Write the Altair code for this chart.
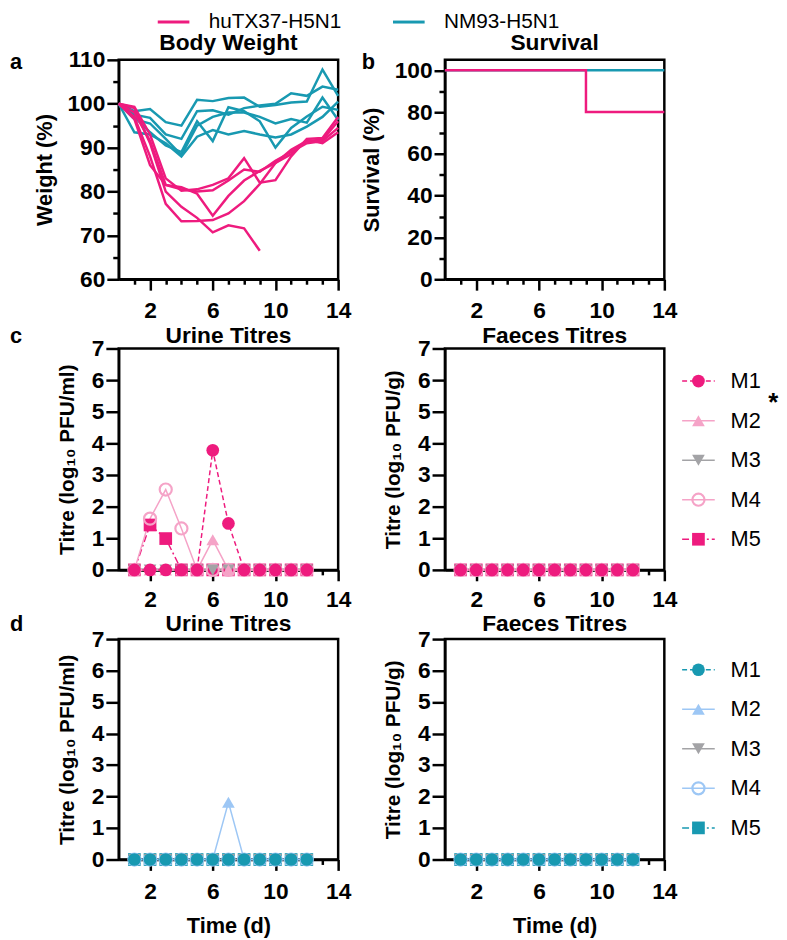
import altair as alt
import pandas as pd

FONT = "Liberation Sans"
PINK = "#EE1B7E"
LPINK = "#F5A3C7"
GREY = "#A3A3A6"
TEAL = "#1899B1"
LBLUE = "#9DC7F5"

# ---------------- data ----------------
days = list(range(15))
viruses = ["huTX37-H5N1", "NM93-H5N1"]

# body weight (%) huTX37-H5N1, five mice (one died after day 9)
hu_m1 = [100, 99.0, 91.0, 80.0, 76.5, 74.0, 70.7, 72.3, 71.6, 66.5]
hu_m2 = [100, 97.0, 88.0, 77.2, 73.2, 73.3, 73.5, 75.0, 77.8, 81.7, 86.5, 89.5, 91.5, 91.8, 96.0]
hu_m3 = [100, 96.5, 86.0, 81.5, 81.0, 79.5, 74.5, 79.0, 82.5, 84.7, 86.5, 88.5, 91.8, 91.0, 93.5]
hu_m4 = [100, 99.3, 93.0, 83.0, 80.2, 80.5, 81.5, 83.0, 87.6, 82.0, 82.6, 88.0, 92.0, 92.2, 97.0]
hu_m5 = [100, 98.0, 91.5, 81.5, 80.5, 80.0, 80.3, 82.5, 85.0, 84.5, 87.0, 89.0, 91.0, 91.5, 94.5]
# body weight (%) NM93-H5N1
nm_m1 = [100, 98.3, 98.8, 95.8, 95.0, 100.9, 100.6, 101.3, 101.4, 99.3, 99.7, 100.3, 100.5, 107.8, 101.8]
nm_m2 = [100, 97.5, 96.8, 93.0, 92.0, 98.3, 98.5, 97.5, 99.0, 99.6, 100.0, 102.4, 101.8, 103.9, 103.2]
nm_m3 = [100, 96.5, 95.5, 92.0, 88.3, 95.0, 97.0, 98.0, 98.0, 97.0, 95.5, 96.5, 95.7, 101.4, 96.3]
nm_m4 = [100, 93.5, 93.0, 91.0, 88.0, 92.5, 94.0, 93.0, 93.8, 93.0, 92.3, 93.0, 94.8, 97.0, 100.5]
nm_m5 = [100, 97.0, 93.5, 90.5, 89.0, 96.0, 91.5, 99.2, 98.3, 96.0, 90.0, 94.5, 97.1, 99.3, 98.6]

# survival (%)
surv_days = [0, 9, 14]
surv_hu = [100, 80, 80]
surv_nm = [100, 100, 100]

# titres (log10)
mice = ["M1", "M2", "M3", "M4", "M5"]
tdays = list(range(1, 13))
c_urine_m1 = [0, 0, 0, 0, 0, 3.78, 1.47, 0, 0, 0, 0, 0]
c_urine_m2 = [0, 0, 0, 0, 0, 0.95, 0, 0, 0, 0, 0, 0]
c_urine_m3 = [0] * 12
c_urine_m4 = [0, 1.62, 2.54, 1.31, 0, 0, 0, 0, 0, 0, 0, 0]
c_urine_m5 = [0, 1.42, 0.99, 0, 0, 0, 0, 0, 0, 0, 0, 0]
d_urine_m1 = [0] * 12
d_urine_m2 = [0, 0, 0, 0, 0, 0, 1.82, 0, 0, 0, 0, 0]
d_urine_m3 = [0] * 12
d_urine_m4 = [0] * 12
d_urine_m5 = [0] * 12
faeces_all = [0] * 12

# ---------------- helpers ----------------
XSC = alt.Scale(domain=[0, 14], nice=False, zero=False)
MAJOR_X = "(datum.value - 2) % 4 == 0"


def x_axis(title=None, pad=9.5):
    return alt.Axis(values=list(range(1, 15)), labelExpr=f"{MAJOR_X} ? datum.label : ''",
                    tickSize={"condition": {"test": MAJOR_X, "value": 11}, "value": 5},
                    labelFlush=False, labelOverlap=False, labelPadding=pad, title=title,
                    titlePadding=12)


def text_at(t, x, y, size=22, weight="bold", align="left"):
    return alt.Chart(alt.Data(values=[{"t": t}])).mark_text(
        font=FONT, fontSize=size, fontWeight=weight, align=align, baseline="alphabetic",
        color="black").encode(x=alt.value(x), y=alt.value(y), text="t:N")


color_enc_legend = alt.Legend(
    title=None, orient="none", legendX=38, legendY=-56, direction="horizontal",
    symbolType="stroke", symbolSize=1024, symbolStrokeWidth=3, labelFontSize=21,
    labelFont=FONT, labelFontWeight="normal", labelColor="black", labelOffset=18,
    columnPadding=45)
COLSC = alt.Scale(domain=viruses, range=[PINK, TEAL])

# ---------------- panel a ----------------
rows = []
for name, vals in [("nm1", nm_m1), ("nm2", nm_m2), ("nm3", nm_m3), ("nm4", nm_m4), ("nm5", nm_m5)]:
    for d, v in zip(days, vals):
        rows.append({"day": d, "weight": v, "mouse": name, "virus": viruses[1]})
wt_nm = pd.DataFrame(rows)
rows = []
for name, vals in [("hu1", hu_m1), ("hu2", hu_m2), ("hu3", hu_m3), ("hu4", hu_m4), ("hu5", hu_m5)]:
    for d, v in zip(days, vals):
        rows.append({"day": d, "weight": v, "mouse": name, "virus": viruses[0]})
wt_hu = pd.DataFrame(rows)

ya = alt.Y("weight:Q", scale=alt.Scale(domain=[60, 110], nice=False, zero=False),
           axis=alt.Axis(values=list(range(60, 111, 5)),
                         labelExpr="datum.value % 10 == 0 ? datum.label : ''",
                         tickSize={"condition": {"test": "datum.value % 10 == 0", "value": 12},
                                   "value": 6},
                         title="Weight (%)", labelOverlap=False))
xa = alt.X("day:Q", scale=XSC, axis=x_axis())
col_a = alt.Color("virus:N", scale=COLSC, legend=color_enc_legend)

la1 = alt.Chart(wt_nm).mark_line(strokeWidth=2.5).encode(x=xa, y=ya, detail="mouse:N", color=col_a)
la2 = alt.Chart(wt_hu).mark_line(strokeWidth=2.5).encode(x=xa, y=ya, detail="mouse:N", color=col_a)
panel_a = alt.layer(la1, la2, text_at("a", -110, 9),
                    text_at("Body Weight", 111, -10, size=23, align="center")).properties(
    width=222, height=222)

# ---------------- panel b ----------------
sv = pd.DataFrame(
    [{"day": d, "surv": v, "virus": viruses[1]} for d, v in zip(surv_days, surv_nm)] +
    [{"day": d, "surv": v, "virus": viruses[0]} for d, v in zip(surv_days, surv_hu)])
yb = alt.Y("surv:Q", scale=alt.Scale(domain=[0, 105], nice=False),
           axis=alt.Axis(values=list(range(0, 101, 10)),
                         labelExpr="datum.value % 20 == 0 ? datum.label : ''",
                         tickSize={"condition": {"test": "datum.value % 20 == 0", "value": 11},
                                   "value": 6},
                         title="Survival (%)", labelOverlap=False))
col_b = alt.Color("virus:N", scale=COLSC, legend=None)
lb1 = alt.Chart(sv).transform_filter(f"datum.virus == '{viruses[1]}'").mark_line(
    strokeWidth=2.5, interpolate="step-after").encode(x=xa, y=yb, color=col_b)
lb2 = alt.Chart(sv).transform_filter(f"datum.virus == '{viruses[0]}'").mark_line(
    strokeWidth=2.5, interpolate="step-after").encode(x=xa, y=yb, color=col_b)
panel_b = alt.layer(lb1, lb2, text_at("b", -84, 9),
                    text_at("Survival", 111, -10, size=23, align="center")).properties(
    width=222, height=222)

# ---------------- titre panels ----------------
SHAPES = ["circle", "triangle-up", "triangle-down", "circle", "square"]
FILLED = [True, True, True, False, True]
DASHES = [[5, 3], None, None, None, [7, 3, 2, 3]]


def point_kw(i, color):
    pkw = dict(shape=SHAPES[i], filled=FILLED[i], color=color, opacity=1, size=165)
    if not FILLED[i]:
        pkw["strokeWidth"] = 2.2
        pkw["size"] = 150
    return pkw


def titre_panel(series, colors, ytitle, title, xtitle, height, title_y, let=None, pad=10.5):
    xs = alt.X("day:Q", scale=XSC, axis=x_axis(xtitle, pad=pad))
    ys = alt.Y("titre:Q", scale=alt.Scale(domain=[0, 7], nice=False),
               axis=alt.Axis(values=list(range(0, 8)), tickSize=13, title=ytitle,
                             titleFontSize=21, titlePadding=14, labelOverlap=False))
    lines, pts = [], []
    for i in [4, 3, 2, 1, 0]:
        df = pd.DataFrame({"day": tdays, "titre": series[i]})
        kw = dict(color=colors[i], strokeWidth=1.5)
        if DASHES[i]:
            kw["strokeDash"] = DASHES[i]
        lines.append(alt.Chart(df).mark_line(**kw).encode(x=xs, y=ys))
        pts.append(alt.Chart(df).mark_point(**point_kw(i, colors[i])).encode(x=xs, y=ys))
    layers = lines + pts + [text_at(title, 111, title_y, size=23, align="center")]
    if let:
        layers.append(text_at(*let))
    return alt.layer(*layers).properties(width=222, height=height)


def legend_cell(colors, yrange, height, star=False):
    # the cell sits right of the faeces panel; marks are placed to its left
    ysc = alt.Y("mouse:N", scale=alt.Scale(type="point", domain=mice, range=yrange, padding=0),
                axis=None)
    layers = []
    for i, m in enumerate(mice):
        df = pd.DataFrame({"mouse": [m]})
        kw = dict(color=colors[i], strokeWidth=1.5)
        if DASHES[i]:
            kw["strokeDash"] = DASHES[i]
        layers.append(alt.Chart(df).mark_rule(**kw).encode(x=alt.value(-90), x2=alt.value(-57), y=ysc))
        layers.append(alt.Chart(df).mark_point(**point_kw(i, colors[i])).encode(
            x=alt.value(-73.5), y=ysc))
        layers.append(alt.Chart(df).mark_text(font=FONT, fontSize=22, align="left",
                                              baseline="middle", color="black").encode(
            x=alt.value(-41), y=ysc, text="mouse:N"))
    if star:
        layers.append(alt.Chart(alt.Data(values=[{"t": "*"}])).mark_text(
            font=FONT, fontSize=26, fontWeight="bold", color="black", align="left",
            baseline="middle").encode(x=alt.value(-3), y=alt.value(55), text="t:N"))
    return alt.layer(*layers).properties(width=2, height=height,
                                         view=alt.ViewBackground(strokeOpacity=0))


blank = alt.Chart(alt.Data(values=[{"t": ""}])).mark_text().encode(
    x=alt.value(0), y=alt.value(0), text="t:N").properties(
    width=2, height=222, view=alt.ViewBackground(strokeOpacity=0))

c_cols = [PINK, LPINK, GREY, LPINK, PINK]
d_cols = [TEAL, LBLUE, GREY, LBLUE, TEAL]
YT_ML = "Titre (log\u2081\u2080 PFU/ml)"
YT_G = "Titre (log\u2081\u2080 PFU/g)"

cu = titre_panel([c_urine_m1, c_urine_m2, c_urine_m3, c_urine_m4, c_urine_m5], c_cols,
                 YT_ML, "Urine Titres", None, 224, -6, ("c", -110, -6), pad=8)
cf = titre_panel([faeces_all] * 5, c_cols, YT_G, "Faeces Titres", None, 224, -6, pad=8)
du = titre_panel([d_urine_m1, d_urine_m2, d_urine_m3, d_urine_m4, d_urine_m5], d_cols,
                 YT_ML, "Urine Titres", "Time (d)", 223, -8, ("d", -110, -8))
df_ = titre_panel([faeces_all] * 5, d_cols, YT_G, "Faeces Titres", "Time (d)", 223, -8)

chart = alt.concat(
    panel_a, panel_b, blank,
    cu, cf, legend_cell(c_cols, [33, 193], 224, True),
    du, df_, legend_cell(d_cols, [31, 191], 223),
    columns=3, bounds="flush", spacing={"row": 70, "column": 108},
).resolve_scale(color="independent").properties(
    padding={"left": 0, "top": -11, "right": 0, "bottom": 0}).configure_view(
    stroke="black", strokeWidth=2.5).configure_axis(
    labelFont=FONT, labelFontSize=23, labelFontWeight="bold", labelColor="black",
    titleFont=FONT, titleFontSize=22, titleFontWeight="bold", titleColor="black",
    domainColor="black", domainWidth=2.5, tickColor="black", tickWidth=2.5, grid=False,
    labelPadding=2, titlePadding=11)

chart.save("out.html", embed_options={"renderer": "svg", "actions": False})
